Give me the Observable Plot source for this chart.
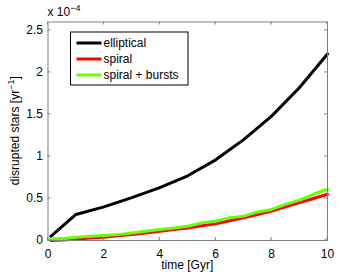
<!DOCTYPE html>
<html>
<head>
<meta charset="utf-8">
<script src="https://cdn.jsdelivr.net/npm/d3@7"></script>
<script src="https://cdn.jsdelivr.net/npm/@observablehq/plot@0.6"></script>
<style>
  html, body { margin: 0; padding: 0; background: #fff; }
  #chart { width: 362px; height: 272px; }
</style>
</head>
<body>
<div id="chart"></div>
<script>
// Values in units of 1e-4 yr^-1
const timeE = [0.1, 1, 2, 3, 4, 5, 6, 7, 8, 9, 10];
const elliptical = [0.05, 0.31, 0.40, 0.51, 0.63, 0.77, 0.96, 1.20, 1.48, 1.82, 2.22];

const timeS = [0.1, 0.5, 1, 1.5, 2, 2.5, 3, 3.5, 4, 4.5, 5, 5.5, 6, 6.5, 7, 7.5, 8, 8.5, 9, 9.5, 10];
const spiral = [0.0, 0.005, 0.015, 0.03, 0.04, 0.055, 0.07, 0.09, 0.11, 0.13, 0.15, 0.175, 0.20, 0.235, 0.27, 0.31, 0.35, 0.40, 0.45, 0.50, 0.55];
const spiralBursts = [0.02, 0.02, 0.04, 0.05, 0.06, 0.07, 0.09, 0.11, 0.13, 0.15, 0.17, 0.21, 0.23, 0.27, 0.29, 0.34, 0.37, 0.43, 0.48, 0.55, 0.61];

const xTicks = [0, 2, 4, 6, 8, 10];
const yTicks = [0, 0.5, 1, 1.5, 2, 2.5];
const yTickLabels = ["0", "0.5", "1", "1.5", "2", "2.5"];

const seriesNames = ["elliptical", "spiral", "spiral + bursts"];
const seriesColors = ["#000000", "#ff0000", "#66ff00"];

const rows = [];
timeE.forEach((t, i) => rows.push({t, v: elliptical[i], s: seriesNames[0]}));
timeS.forEach((t, i) => rows.push({t, v: spiral[i], s: seriesNames[1]}));
timeS.forEach((t, i) => rows.push({t, v: spiralBursts[i], s: seriesNames[2]}));

const font = "Liberation Sans, Arial, Helvetica, sans-serif";
const axisGray = "#808080";

const plot = Plot.plot({
  width: 362,
  height: 272,
  marginLeft: 47.5,
  marginRight: 35,
  marginTop: 21.5,
  marginBottom: 32,
  style: {fontFamily: font, fontSize: "12px", color: "#000", background: "#fff"},
  x: {domain: [0, 10]},
  y: {domain: [0, 2.6]},
  color: {domain: seriesNames, range: seriesColors},
  marks: [
    Plot.line(rows, {x: "t", y: "v", z: "s", stroke: "s", strokeWidth: 3, strokeLinejoin: "round"}),
    Plot.frame({stroke: axisGray, strokeWidth: 1}),
    Plot.axisX({anchor: "bottom", ticks: xTicks, tickSize: 0, tickPadding: 9, tickFormat: d => String(d), label: null, fill: "#000"}),
    Plot.axisY({anchor: "left", ticks: yTicks, tickSize: 0, tickPadding: 5, tickFormat: (d, i) => yTickLabels[i], label: null, fill: "#000"})
  ]
});

document.getElementById("chart").appendChild(plot);

const svg = d3.select(plot);
const xs = plot.scale("x");
const ys = plot.scale("y");
const x0 = xs.apply(0), x1 = xs.apply(10);
const y0 = ys.apply(0), y1 = ys.apply(2.6);
const tk = 3;

// inward ticks on all four sides
const tg = svg.append("g").attr("stroke", axisGray).attr("stroke-width", 1);
xTicks.forEach(t => {
  const x = xs.apply(t);
  tg.append("line").attr("x1", x).attr("x2", x).attr("y1", y0).attr("y2", y0 - tk);
  tg.append("line").attr("x1", x).attr("x2", x).attr("y1", y1).attr("y2", y1 + tk);
});
yTicks.forEach(t => {
  const y = ys.apply(t);
  tg.append("line").attr("x1", x0).attr("x2", x0 + tk).attr("y1", y).attr("y2", y);
  tg.append("line").attr("x1", x1).attr("x2", x1 - tk).attr("y1", y).attr("y2", y);
});

// axis labels
svg.append("text")
  .attr("x", (x0 + x1) / 2).attr("y", 269)
  .attr("text-anchor", "middle")
  .attr("font-family", font).attr("font-size", 12).attr("fill", "#000")
  .text("time [Gyr]");

const yl = svg.append("text")
  .attr("transform", `translate(19,${(y0 + y1) / 2}) rotate(-90)`)
  .attr("text-anchor", "middle")
  .attr("font-family", font).attr("font-size", 12).attr("fill", "#000");
yl.append("tspan").text("disrupted stars [yr");
yl.append("tspan").attr("dy", -5).attr("font-size", 9).text("−1");
yl.append("tspan").attr("dy", 5).text("]");

// exponent label
const ex = svg.append("text")
  .attr("x", x0).attr("y", 16)
  .attr("text-anchor", "start")
  .attr("font-family", font).attr("font-size", 12).attr("fill", "#000");
ex.append("tspan").text("x 10");
ex.append("tspan").attr("dy", -5).attr("font-size", 9).text("−4");

// legend
const lg = svg.append("g");
const lx = 70.5, ly = 32, lw = 117.5, lh = 53;
lg.append("rect").attr("x", lx).attr("y", ly).attr("width", lw).attr("height", lh)
  .attr("fill", "#fff").attr("stroke", "#000").attr("stroke-width", 1);
seriesNames.forEach((name, i) => {
  const yy = ly + 11 + i * 16;
  lg.append("line").attr("x1", lx + 6).attr("x2", lx + 31).attr("y1", yy).attr("y2", yy)
    .attr("stroke", seriesColors[i]).attr("stroke-width", 3);
  lg.append("text").attr("x", lx + 33).attr("y", yy + 4)
    .attr("text-anchor", "start")
    .attr("font-family", font).attr("font-size", 12).attr("fill", "#000").text(name);
});
</script>
</body>
</html>
